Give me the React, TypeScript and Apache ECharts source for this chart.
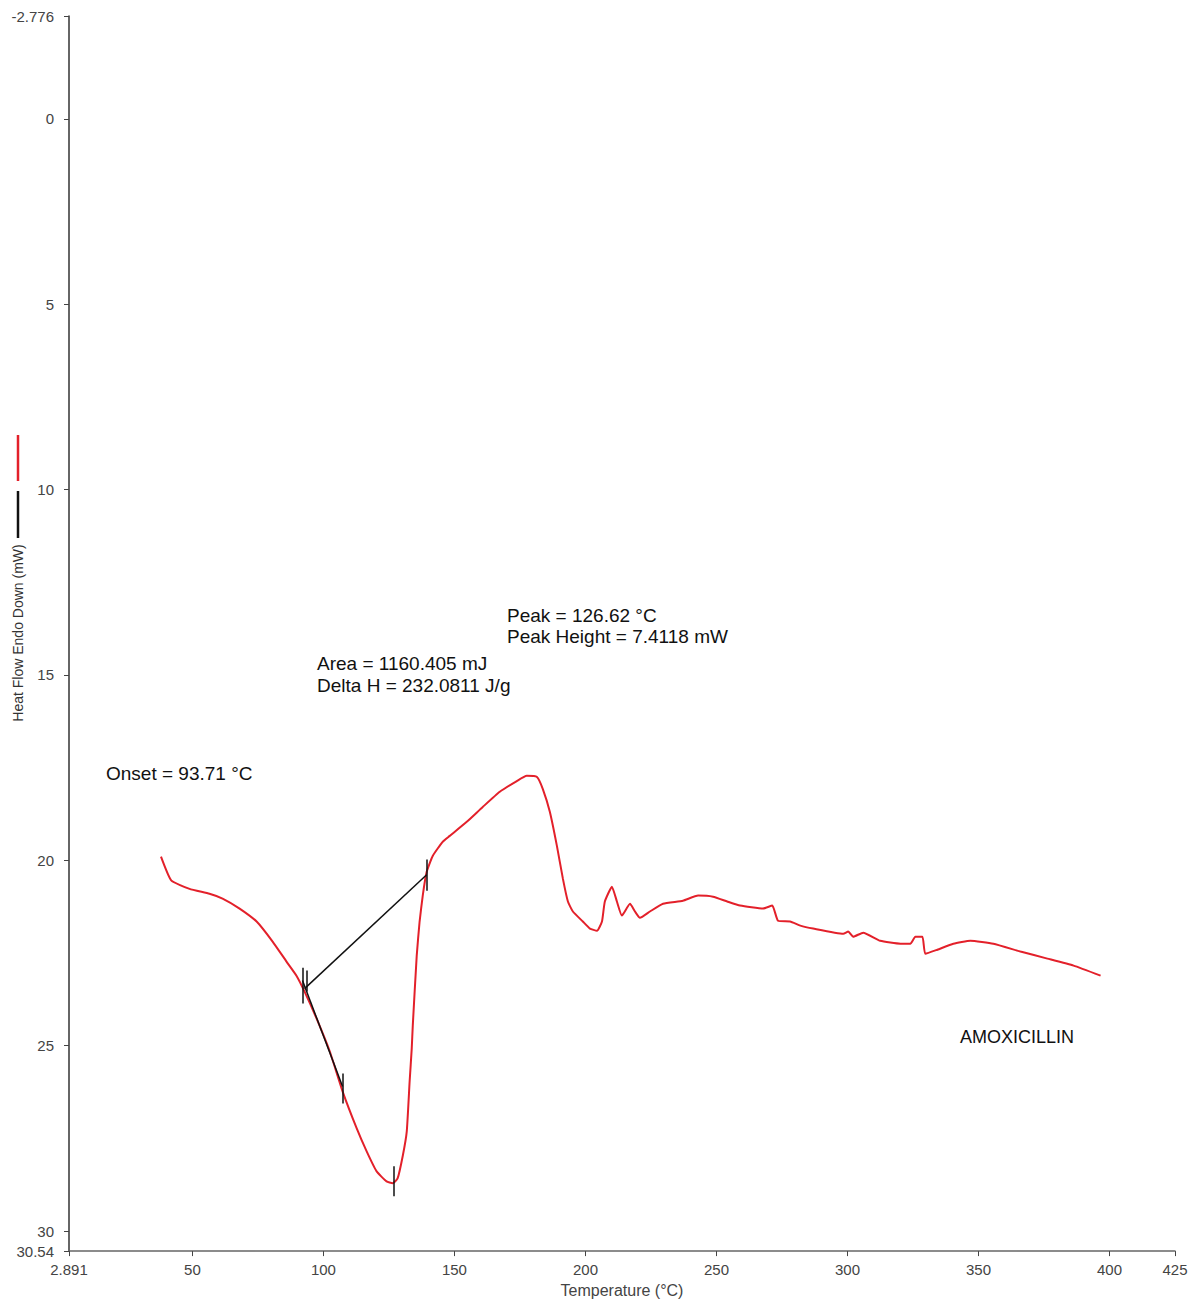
import React, { useEffect, useRef } from "react";
import * as echarts from "echarts";

// Temperature (°C) of each sampled point of the DSC curve
const temperature = [
  38.0, 41.9, 48.9, 56.5, 61.5, 68.0, 74.5, 80.6, 85.9, 89.7, 92.8, 97.4, 102.4,
  107.3, 112.7, 116.5, 120.3, 124.1, 126.4, 128.3, 130.3, 131.8, 132.9, 133.7,
  134.1, 135.6, 136.7, 137.9, 139.4, 141.7, 145.5, 148.2, 154.7, 160.8, 167.3,
  173.8, 177.6, 181.5, 183.7, 186.4, 189.1, 191.4, 193.3, 195.2, 199.0, 201.7,
  204.4, 206.3, 207.4, 210.1, 212.0, 213.9, 217.0, 218.9, 220.8, 224.6, 229.6,
  237.2, 243.0, 248.7, 254.1, 259.0, 267.8, 271.3, 273.5, 278.1, 282.0, 286.9,
  298.4, 300.3, 302.2, 306.0, 312.5, 320.2, 324.0, 325.9, 328.6, 329.7, 334.3,
  340.4, 346.9, 355.7, 366.0, 376.3, 386.3, 396.6,
];
// Heat flow (mW), endo down
const heatFlow = [
  19.9, 20.54, 20.77, 20.9, 21.03, 21.3, 21.65, 22.19, 22.73, 23.11, 23.54, 24.27,
  25.15, 26.23, 27.23, 27.85, 28.39, 28.66, 28.71, 28.58, 27.96, 27.31, 25.96,
  25.07, 24.45, 22.57, 21.65, 20.95, 20.31, 19.88, 19.5, 19.34, 18.96, 18.56,
  18.15, 17.86, 17.72, 17.75, 18.07, 18.69, 19.61, 20.5, 21.11, 21.38, 21.65,
  21.84, 21.9, 21.65, 21.11, 20.71, 21.11, 21.49, 21.17, 21.38, 21.55, 21.38,
  21.17, 21.09, 20.95, 20.98, 21.11, 21.22, 21.3, 21.22, 21.63, 21.65, 21.76,
  21.84, 21.98, 21.92, 22.06, 21.95, 22.17, 22.25, 22.25, 22.06, 22.06, 22.52,
  22.41, 22.25, 22.17, 22.25, 22.46, 22.65, 22.84, 23.11,
];

// Analysis construction lines: [x1, y1, x2, y2]
const analysisLines = [
  [92.8, 23.46, 139.4, 20.39], // baseline
  [92.0, 23.24, 107.3, 26.1], // onset tangent
  [92.0, 22.9, 92.0, 23.86], // markers
  [93.6, 22.97, 93.6, 23.54],
  [107.3, 25.75, 107.3, 26.56],
  [126.8, 28.25, 126.8, 29.06],
  [139.4, 19.98, 139.4, 20.82],
];

const xTicks = [2.891, 50, 100, 150, 200, 250, 300, 350, 400, 425];
const yTicks = [-2.776, 0, 5, 10, 15, 20, 25, 30, 30.54];

const annotations = [
  { text: "Peak = 126.62 °C", x: 507, y: 615, size: 19 },
  { text: "Peak Height = 7.4118 mW", x: 507, y: 636, size: 19 },
  { text: "Area = 1160.405 mJ", x: 317, y: 663, size: 19 },
  { text: "Delta H = 232.0811 J/g", x: 317, y: 685, size: 19 },
  { text: "Onset = 93.71 °C", x: 106, y: 773, size: 19 },
  { text: "AMOXICILLIN", x: 960, y: 1037, size: 18 },
];

const FONT = "'Liberation Sans', Arial, sans-serif";

export default function App() {
  const ref = useRef<HTMLDivElement>(null);
  useEffect(() => {
    if (!ref.current) return;
    const chart = echarts.init(ref.current, undefined, { renderer: "svg" });
    const data = temperature.map((t, i) => [t, heatFlow[i]]);
    chart.setOption({
      animation: false,
      backgroundColor: "#ffffff",
      textStyle: { fontFamily: FONT },
      grid: { left: 69, right: 22, top: 16, bottom: 50, containLabel: false },
      xAxis: {
        type: "value",
        min: 2.891,
        max: 425,
        name: "Temperature (°C)",
        nameLocation: "middle",
        nameGap: 29,
        nameTextStyle: { fontSize: 16, color: "#444", fontFamily: FONT },
        axisLine: { show: true, onZero: false, lineStyle: { color: "#666", width: 1.5 } },
        axisTick: { show: true, length: 5, customValues: xTicks, lineStyle: { color: "#444" } },
        axisLabel: {
          customValues: xTicks,
          fontSize: 15,
          color: "#444",
          margin: 11,
          fontFamily: FONT,
          formatter: (v: number) => String(v),
        },
        splitLine: { show: false },
      },
      yAxis: {
        type: "value",
        inverse: true,
        min: -2.776,
        max: 30.54,
        axisLine: { show: true, onZero: false, lineStyle: { color: "#333", width: 1.5 } },
        axisTick: { show: true, length: 5, customValues: yTicks, lineStyle: { color: "#444" } },
        axisLabel: {
          customValues: yTicks,
          fontSize: 15,
          color: "#444",
          margin: 15,
          fontFamily: FONT,
          formatter: (v: number) => String(v),
        },
        splitLine: { show: false },
      },
      series: [
        {
          type: "line",
          data,
          showSymbol: false,
          smooth: 0.15,
          lineStyle: { color: "#e3202a", width: 2 },
          markLine: {
            silent: true,
            symbol: ["none", "none"],
            label: { show: false },
            lineStyle: { color: "#111", width: 1.5, type: "solid" },
            data: analysisLines.map(([x1, y1, x2, y2]) => [
              { coord: [x1, y1] },
              { coord: [x2, y2] },
            ]),
          },
        },
      ],
      graphic: [
        {
          type: "text",
          x: 18,
          y: 633,
          rotation: Math.PI / 2,
          style: {
            text: "Heat Flow Endo Down (mW)",
            fontSize: 14,
            fontFamily: FONT,
            fill: "#333",
            textAlign: "center",
            textVerticalAlign: "middle",
          },
        },
        {
          type: "line",
          shape: { x1: 18, y1: 435, x2: 18, y2: 481 },
          style: { stroke: "#e3202a", lineWidth: 2.5 },
        },
        {
          type: "line",
          shape: { x1: 18, y1: 491, x2: 18, y2: 538 },
          style: { stroke: "#111", lineWidth: 2.5 },
        },
        ...annotations.map((a) => ({
          type: "text",
          x: a.x,
          y: a.y,
          style: {
            text: a.text,
            fontSize: a.size,
            fontFamily: FONT,
            fill: "#111",
            textAlign: "left",
            textVerticalAlign: "middle",
          },
        })),
      ],
    });
    return () => chart.dispose();
  }, []);
  return (
    <div
      ref={ref}
      style={{ position: "fixed", left: 0, top: 0, width: 1197, height: 1303 }}
    />
  );
}
